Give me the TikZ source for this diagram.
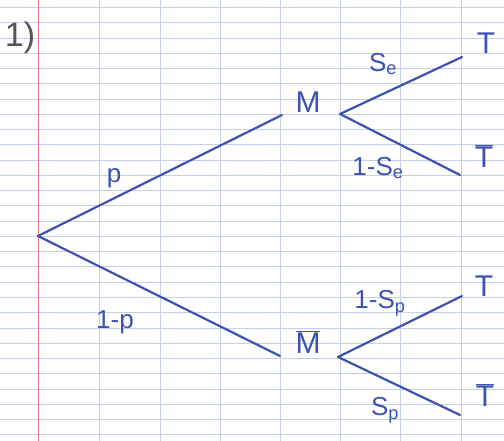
\documentclass[tikz,border=0pt]{standalone}
\usepackage{fontspec}
\setmainfont{Liberation Sans}
\usetikzlibrary{positioning}
\definecolor{ink}{RGB}{62,82,178}
\definecolor{gridclr}{RGB}{196,208,232}
\definecolor{marginclr}{RGB}{226,120,150}
\definecolor{pencil}{RGB}{85,85,85}
\tikzset{
  hline/.style={draw=gridclr,line width=0.5pt},
  vline/.style={draw=gridclr,line width=0.7pt},
  branch/.style={draw=ink,line width=2.2pt,line cap=round},
  evt/.style={text=ink,inner sep=1pt,font=\fontsize{30}{32}\selectfont},
  prob/.style={text=ink,inner sep=1pt,font=\fontsize{26}{28}\selectfont},
}

\begin{document}
\begin{tikzpicture}[x=1pt,y=-1pt]
% paper
\fill[white] (0,0) rectangle (504,441);
\useasboundingbox (0,0) rectangle (504,441);
\foreach \k in {0,...,28}
  \draw[hline] (0,{7.5+15.25*\k}) -- (504,{7.5+15.25*\k});
\foreach \x in {99,160,220,280,340,400,461}
  \draw[vline] (\x,0) -- (\x,441);
\draw[marginclr,line width=1pt] (38,0) -- (38,441);

% exercise number
\node[text=pencil,font=\fontsize{34}{36}\selectfont] (num) at (20,38) {1)};

% first level
\coordinate (root) at (38,236);
\coordinate (Min)  at (282,115);
\node[evt] (M) at (308,102) {M};
\coordinate (Mout) at (340,114);
\coordinate (Nin)  at (280,356);
\node[evt] (Mb) at (308,342) {$\overline{\mbox{M}}$};
\coordinate (Nout) at (338,357);

% leaves
\coordinate (MT)  at (462,57);
\node[evt] (T1)  at (486,43) {T};
\coordinate (MTb) at (460,175);
\node[evt] (Tb1) at (484,156) {$\overline{\mbox{T}}$};
\coordinate (NT)  at (462,296);
\node[evt] (T2)  at (484,286) {T};
\coordinate (NTb) at (460,415);
\node[evt] (Tb2) at (485,395) {$\overline{\mbox{T}}$};

% branches
\draw[branch] (root) -- (Min);
\draw[branch] (root) -- (Nin);
\draw[branch] (Mout) -- (MT);
\draw[branch] (Mout) -- (MTb);
\draw[branch] (Nout) -- (NT);
\draw[branch] (Nout) -- (NTb);

% probabilities
\node[prob] (pp)  at (114,178) {p};
\node[prob] (qq)  at (115,322) {1-p};
\node[prob] (se)  at (383,64)  {S\textsubscript{e}};
\node[prob] (nse) at (378,168) {1-S\textsubscript{e}};
\node[prob] (nsp) at (380,303) {1-S\textsubscript{p}};
\node[prob] (sp)  at (385,410) {S\textsubscript{p}};

\end{tikzpicture}
\end{document}
